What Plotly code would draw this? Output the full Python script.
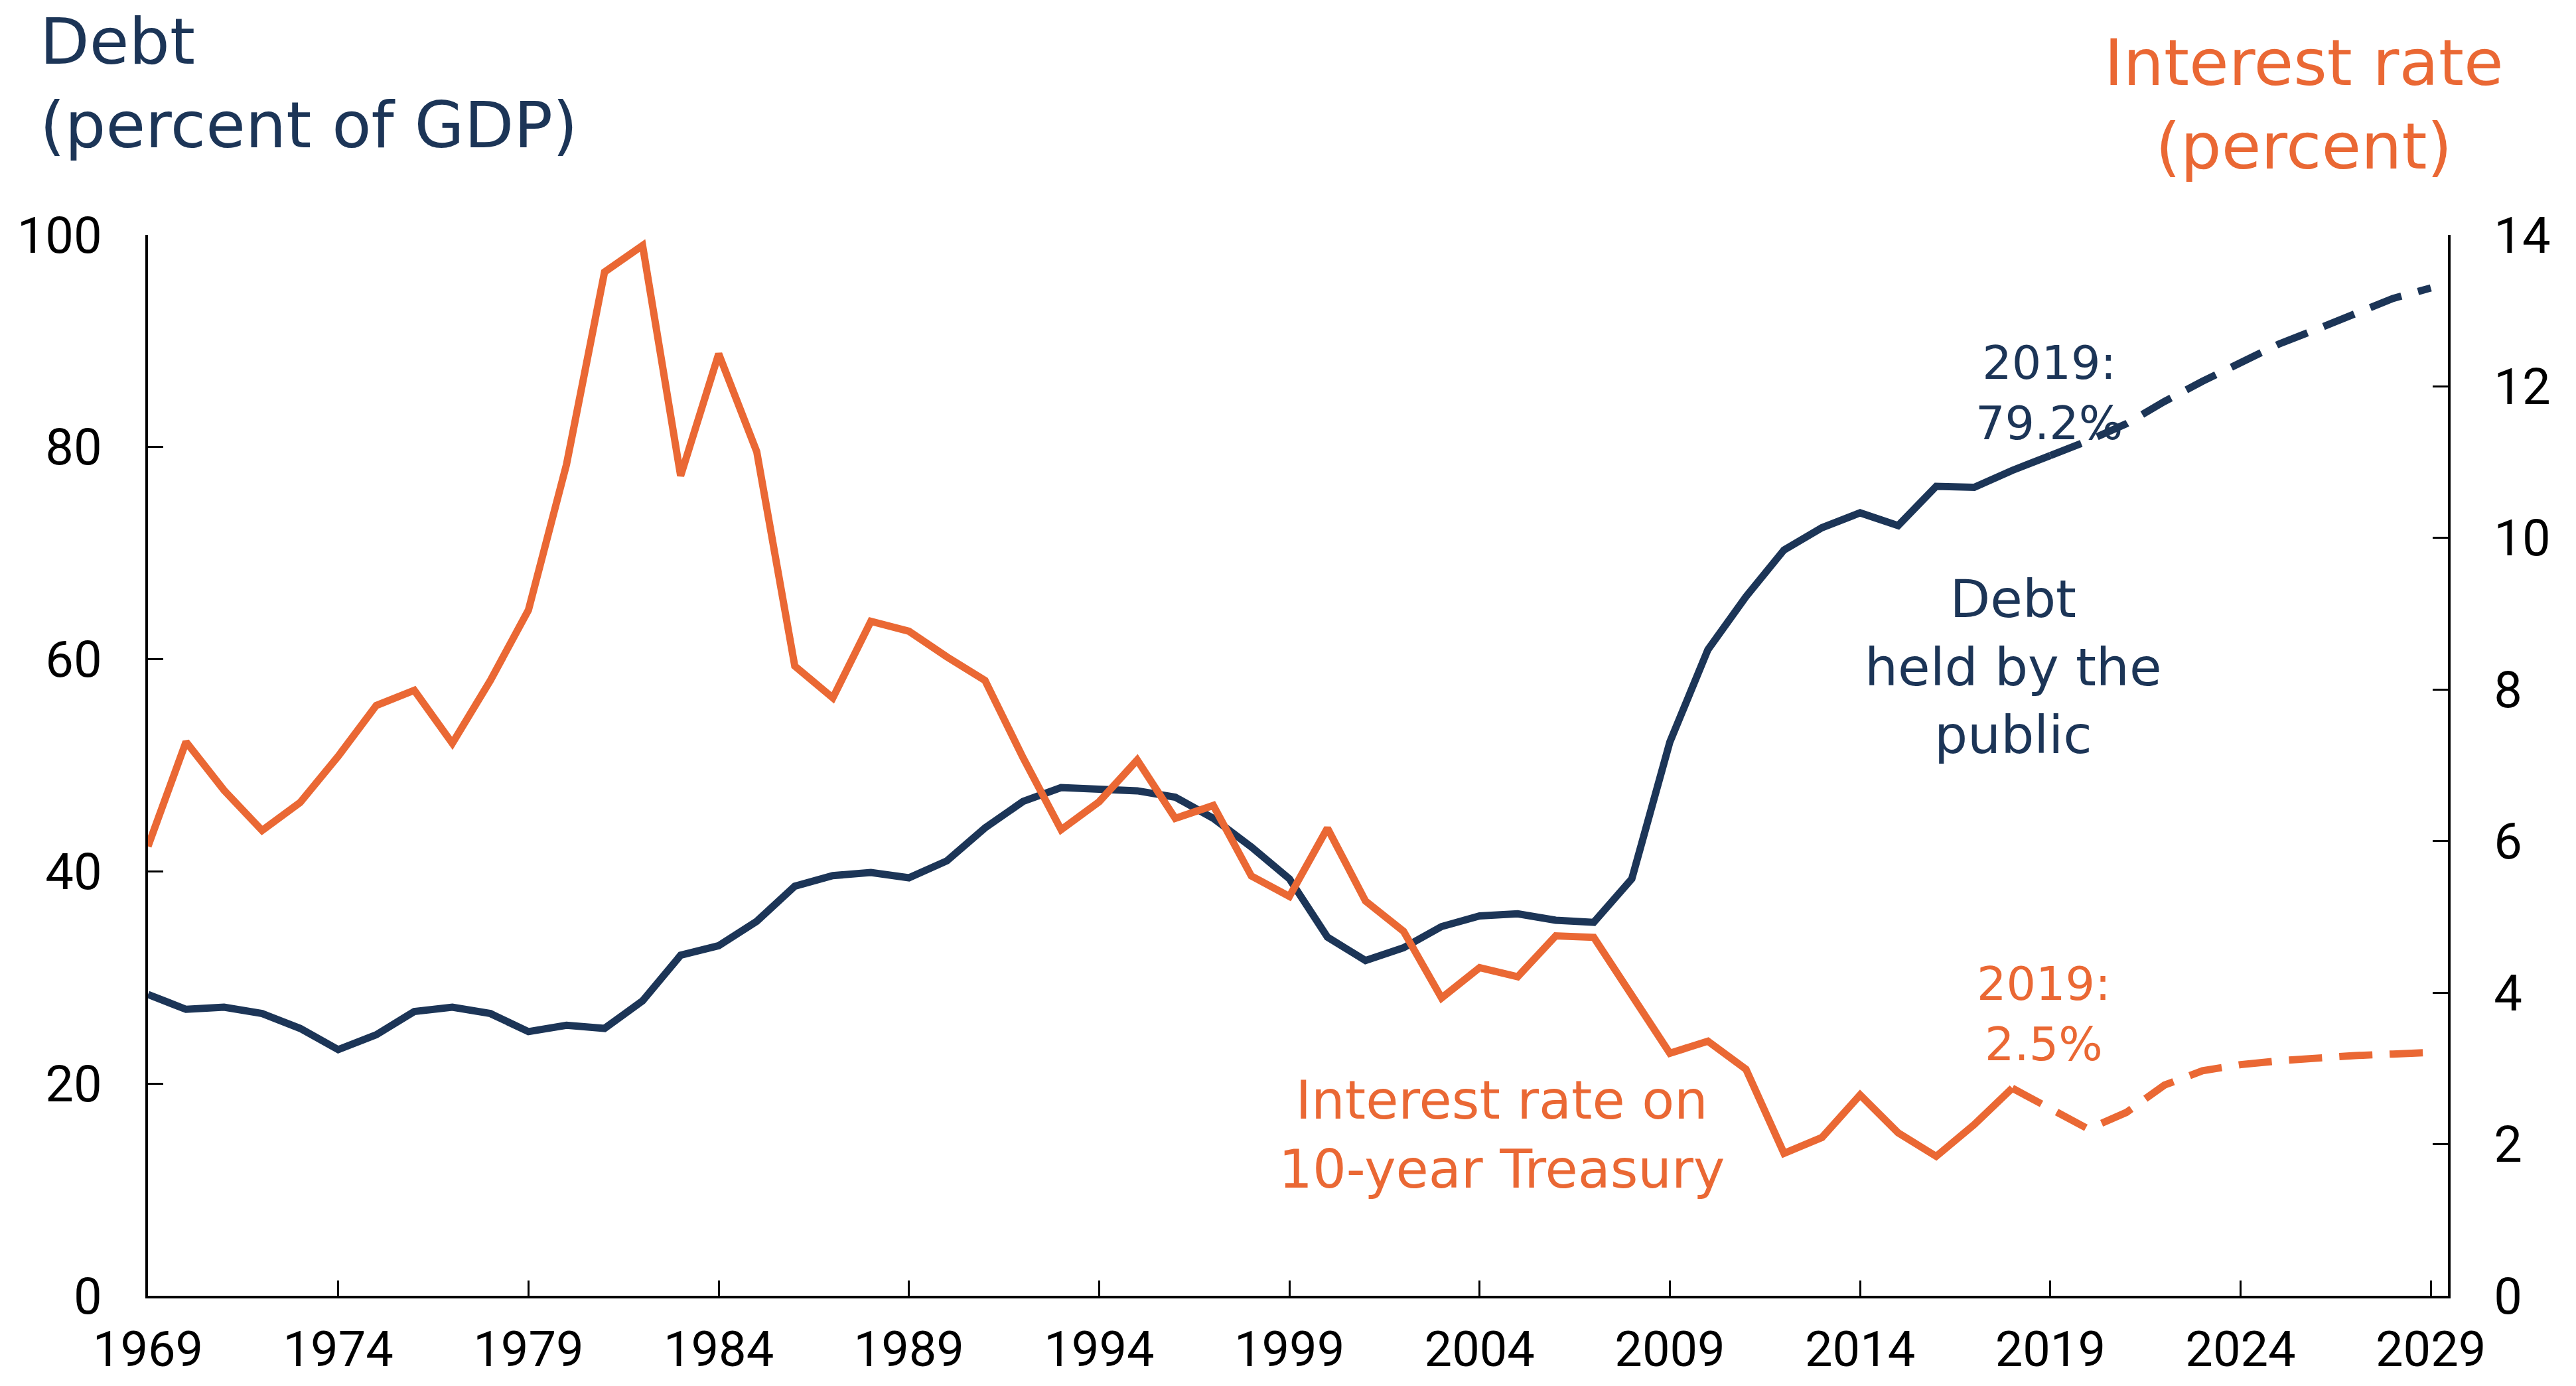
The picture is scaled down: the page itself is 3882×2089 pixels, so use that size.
import plotly.graph_objects as go

# ---------------- data ----------------
years = list(range(1969, 2030))

debt_pct_gdp = [
    28.4, 27.0, 27.2, 26.6, 25.2, 23.2, 24.6, 26.8, 27.2, 26.6,   # 1969-1978
    24.9, 25.5, 25.2, 27.8, 32.1, 33.0, 35.3, 38.6, 39.6, 39.9,   # 1979-1988
    39.4, 41.0, 44.1, 46.6, 47.9, 47.8, 47.6, 47.0, 45.0, 42.3,   # 1989-1998
    39.3, 33.8, 31.6, 32.8, 34.8, 35.8, 36.0, 35.4, 35.2, 39.3,   # 1999-2008
    52.2, 60.9, 65.9, 70.3, 72.4, 73.8, 72.6, 76.3, 76.2, 77.8,   # 2009-2018
    79.2, 80.6, 82.2, 84.3, 86.2, 88.0, 89.7, 91.1, 92.5, 94.0, 95.0,  # 2019-2029
]

rate_10yr = [
    5.93, 7.31, 6.67, 6.14, 6.51, 7.12, 7.79, 7.99, 7.29, 8.12,   # 1969-1978
    9.05, 10.97, 13.51, 13.86, 10.82, 12.43, 11.14, 8.31, 7.89, 8.90,  # 1979-1988
    8.77, 8.43, 8.12, 7.10, 6.15, 6.52, 7.07, 6.30, 6.47, 5.54,   # 1989-1998
    5.27, 6.17, 5.21, 4.81, 3.93, 4.33, 4.21, 4.75, 4.73, 3.96,   # 1999-2008
    3.20, 3.36, 2.99, 1.88, 2.09, 2.65, 2.15, 1.84, 2.26, 2.74,   # 2009-2018
    2.48, 2.20, 2.42, 2.78, 2.97, 3.05, 3.10, 3.14, 3.17, 3.19, 3.21,  # 2019-2029
]

debt_last_actual = 2019
rate_last_actual = 2018

x_ticks = list(range(1969, 2030, 5))
y_left_ticks = list(range(0, 101, 20))
y_right_ticks = list(range(0, 15, 2))

# ---------------- style ----------------
NAVY = "#1C3557"
ORANGE = "#EA6834"
TICK_FONT = "Roboto, Open Sans, sans-serif"
TEXT_FONT = "DejaVu Sans, sans-serif"
W, H = 3882, 2089
ML, MR, MT, MB = 223, 193, 354, 136
LW = 11
DASH = "50px,26px"

i_d = years.index(debt_last_actual)
i_r = years.index(rate_last_actual)

fig = go.Figure()

fig.add_trace(go.Scatter(x=years[:i_d + 1], y=debt_pct_gdp[:i_d + 1], mode="lines",
                         line=dict(color=NAVY, width=LW), yaxis="y", hoverinfo="skip"))
fig.add_trace(go.Scatter(x=years[i_d:], y=debt_pct_gdp[i_d:], mode="lines",
                         line=dict(color=NAVY, width=LW, dash=DASH), yaxis="y",
                         hoverinfo="skip"))
fig.add_trace(go.Scatter(x=years[:i_r + 1], y=rate_10yr[:i_r + 1], mode="lines",
                         line=dict(color=ORANGE, width=LW), yaxis="y2", hoverinfo="skip"))
fig.add_trace(go.Scatter(x=years[i_r:], y=rate_10yr[i_r:], mode="lines",
                         line=dict(color=ORANGE, width=LW, dash=DASH), yaxis="y2",
                         hoverinfo="skip"))

pw = W - ML - MR
ph = H - MT - MB


def px(x):
    return (x - ML) / pw


def py(y):
    return (H - MB - y) / ph


annotations = [
    dict(text="Debt<br>(percent of GDP)", x=px(58), y=py(125), xanchor="left",
         yanchor="middle", align="left", font=dict(size=97, color=NAVY)),
    dict(text="Interest rate<br>(percent)", x=px(3472), y=py(158), xanchor="center",
         yanchor="middle", align="center", font=dict(size=97, color=ORANGE)),
    dict(text="2019:<br>79.2%", x=px(3088), y=py(592), xanchor="center",
         yanchor="middle", align="center", font=dict(size=70, color=NAVY)),
    dict(text="Debt<br>held by the<br>public", x=px(3034), y=py(1005), xanchor="center",
         yanchor="middle", align="center", font=dict(size=79, color=NAVY)),
    dict(text="Interest rate on<br>10-year Treasury", x=px(2263), y=py(1710),
         xanchor="center", yanchor="middle", align="center",
         font=dict(size=80, color=ORANGE)),
    dict(text="2019:<br>2.5%", x=px(3080), y=py(1529), xanchor="center",
         yanchor="middle", align="center", font=dict(size=70, color=ORANGE)),
]
for a in annotations:
    a.update(xref="paper", yref="paper", showarrow=False)
    a["font"]["family"] = TEXT_FONT

axis_common = dict(showgrid=False, zeroline=False, showline=True, linecolor="black",
                   linewidth=4, ticks="inside", ticklen=23, tickwidth=3,
                   tickcolor="black", automargin=False,
                   tickfont=dict(size=76, color="black", family=TICK_FONT))

fig.update_layout(
    width=W, height=H,
    margin=dict(l=ML, r=MR, t=MT, b=MB, pad=0, autoexpand=False),
    paper_bgcolor="white", plot_bgcolor="white",
    showlegend=False, hovermode=False,
    font=dict(family=TICK_FONT),
    xaxis=dict(range=[1969, 2029.45], tickvals=x_ticks, ticklabelstandoff=13,
               **axis_common),
    yaxis=dict(range=[0, 100], tickvals=y_left_ticks, ticklabelstandoff=50,
               **axis_common),
    yaxis2=dict(range=[0, 14], tickvals=y_right_ticks, overlaying="y", side="right",
                ticklabelstandoff=50, **axis_common),
    annotations=annotations,
)
fig.update_xaxes(tickfont_size=74)

fig.write_html("out.html", post_script="document.body.style.margin='0';",
               config={"displayModeBar": False})
